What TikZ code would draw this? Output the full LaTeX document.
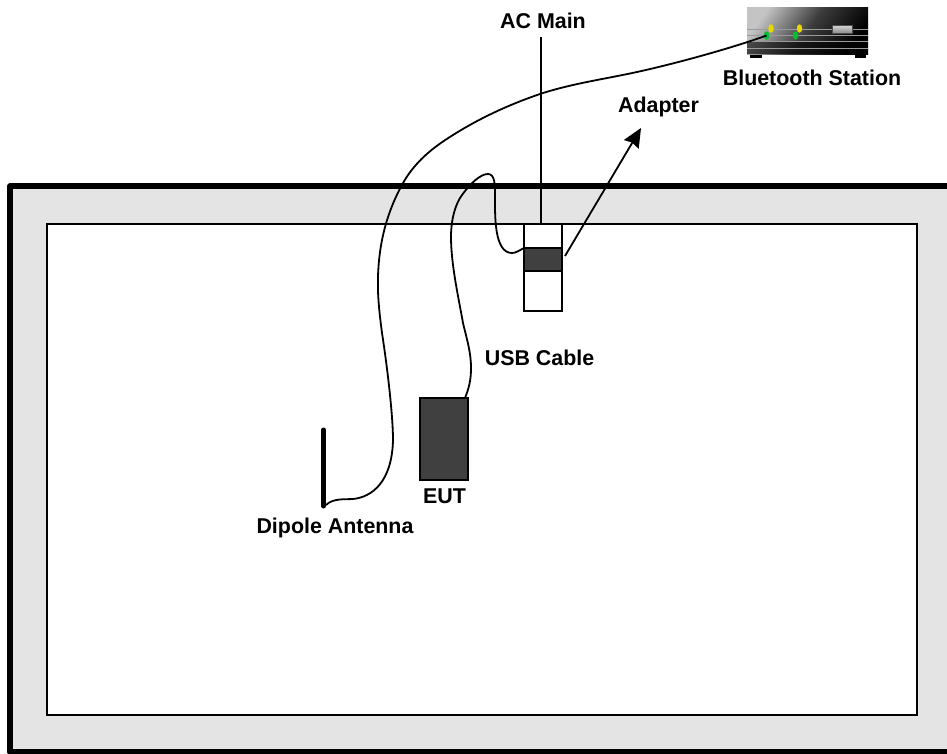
\documentclass[tikz,border=0pt]{standalone}
\usepackage{fontspec}
\setmainfont{Liberation Sans}
\usetikzlibrary{arrows.meta,shapes.geometric}
\definecolor{darkfill}{HTML}{404040}
\definecolor{wallgray}{HTML}{E4E4E4}
\definecolor{stripecol}{HTML}{9A9A9A}
\definecolor{ledy}{HTML}{E6D800}
\definecolor{ledg}{HTML}{00C030}
\definecolor{stationlight}{HTML}{C4C4C4}
\definecolor{stationmid}{HTML}{3C3C3C}
\tikzset{
  lbl/.style={font=\fontsize{21.4}{24}\selectfont\bfseries, inner sep=0pt, anchor=base},
  wire/.style={line width=1.8pt, black},
  box/.style={draw=black, line width=1.8pt, fill=white, outer sep=0pt, inner sep=0pt, anchor=north west},
  darkbox/.style={draw=black, line width=1.8pt, fill=darkfill, outer sep=0pt, inner sep=0pt, anchor=north west},
  led/.style={ellipse, minimum width=5.5pt, minimum height=8.5pt, inner sep=0pt},
  stripe/.style={line width=1pt, stripecol},
}
\begin{document}
\begin{tikzpicture}[x=1pt,y=-1pt]
\useasboundingbox (0,0) rectangle (947,753);
% room
\fill[white] (0,0) rectangle (947,753);
\fill[wallgray] (10,186) rectangle (947,751);
\draw[line width=5.5pt, line join=round] (947,186) -- (10,186) -- (10,752) -- (947,752);
\node[box, minimum width=870pt, minimum height=491pt, line width=1.6pt] (room) at (47,224) {};
% bluetooth station
\fill[black] (750,52) rectangle (762,57.5);
\fill[black] (855,52) rectangle (866,57.5);
\shade[left color=stationlight, right color=black, middle color=stationmid, shading angle=55] (747,7) rectangle (868,54);
\fill[black, opacity=0.6] (747,42) rectangle (868,54);
\foreach \yy in {29,35,41,48}{\draw[stripe] (747,\yy) -- (868,\yy);}
\shade[top color=white!85!black, bottom color=black!45] (832,25) rectangle (852,33);
\draw[black!70,line width=0.6pt] (832,25) rectangle (852,33);
% adapter
\node[box, minimum width=38pt, minimum height=87pt] (adapter) at (524,224) {};
\node[darkbox, minimum width=38pt, minimum height=23pt] (plug) at (524,248) {};
% EUT
\node[darkbox, minimum width=48pt, minimum height=82pt] (eut) at (420,398) {};
% antenna
\coordinate (anttop) at (323.5,430);
\coordinate (antbot) at (323.5,506);
\draw[line width=5pt, line cap=round] (anttop) -- (antbot);
% labels
\node[lbl] (acmain) at (543,28) {AC Main};
\node[lbl] (btlabel) at (812,85) {Bluetooth Station};
\node[lbl] (adlabel) at (658.5,112) {Adapter};
\node[lbl] (usblabel) at (539.5,365) {USB Cable};
\node[lbl] (eutlabel) at (444.5,503) {EUT};
\node[lbl] (dipole) at (335,533) {Dipole Antenna};
% leds
\node[led, fill=ledy] (y1) at (771,28.5) {};
\node[led, fill=ledy] (y2) at (799.5,28.5) {};
\node[led, fill=ledg] (g2) at (795.5,35.5) {};
% connectors
\coordinate (acend) at (541,37);
\draw[wire] (acend) -- (adapter.north -| acend);
\coordinate (arrowfrom) at (565,256);
\coordinate (arrowto) at (641,128);
\draw[wire, -{Stealth[length=19pt,width=17pt,inset=2pt]}] (arrowfrom) -- (arrowto);
\coordinate (usbstart) at (465,398);
\draw[wire] (usbstart) .. controls (469,388) and (471,380) .. (471,368)
  .. controls (471,352) and (467,340) .. (463,323)
  .. controls (459,300) and (451,265) .. (451,237)
  .. controls (451,218) and (456,203) .. (462,195)
  .. controls (470,184) and (480,174) .. (488,174)
  .. controls (495,174) and (495,185) .. (495,197)
  .. controls (495,215) and (494,253) .. (512,253)
  .. controls (516,253) and (520,250) .. (plug.north west);
\node[led, fill=ledg] (g1) at (766.5,35.5) {};
\coordinate (antfoot) at (326,505);
\draw[wire] (antfoot) .. controls (333,498) and (345,499.5) .. (353,499)
  .. controls (372,497) and (392,482) .. (393,440)
  .. controls (393,415) and (387,365) .. (382,333)
  .. controls (379,310) and (377.5,295) .. (378,277)
  .. controls (379,240) and (388,210) .. (403,183)
  .. controls (415,162) and (432,148) .. (453,135)
  .. controls (480,118) and (510,104) .. (543,93)
  .. controls (575,83) and (605,79) .. (637,72)
  .. controls (680,62.5) and (735,47) .. (g1.center);
\end{tikzpicture}
\end{document}
